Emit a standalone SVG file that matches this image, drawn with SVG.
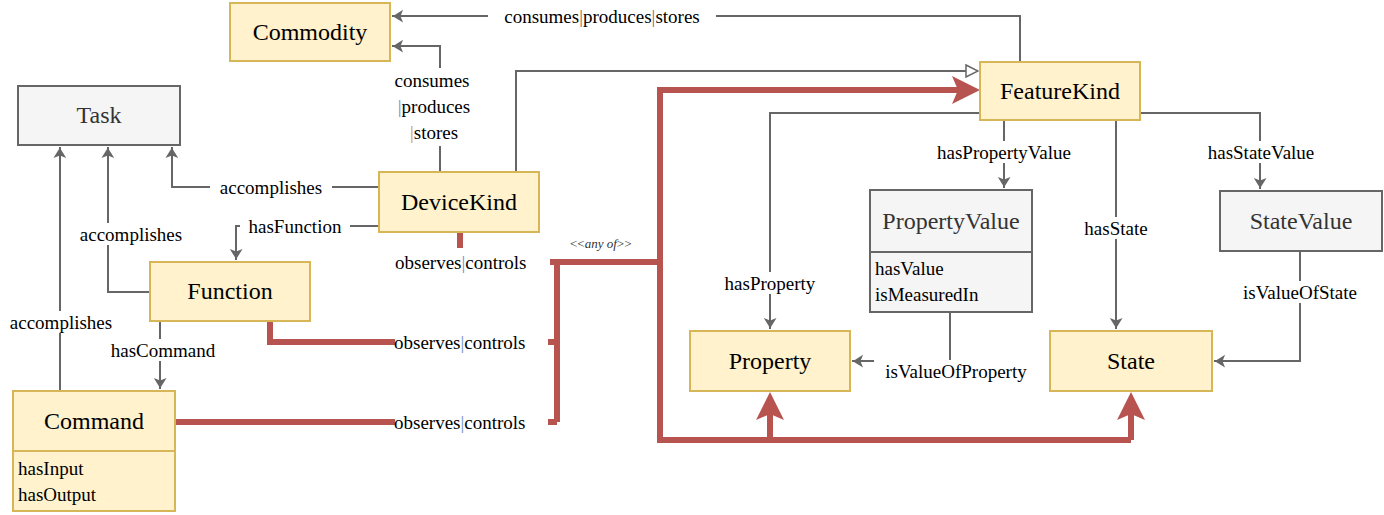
<svg xmlns="http://www.w3.org/2000/svg" width="1384" height="515" viewBox="0 0 1384 515">
<style>
.y{fill:#fff2cc;stroke:#d6b656;stroke-width:2}
.g{fill:#f5f5f5;stroke:#666;stroke-width:2}
.t{font-family:"Liberation Serif",serif;font-size:24px;fill:#000;text-anchor:middle}
.tg{fill:#333}
.a{font-family:"Liberation Serif",serif;font-size:19px;fill:#000;text-anchor:middle}
.al{font-family:"Liberation Serif",serif;font-size:19px;fill:#000}
.c{fill:none;stroke:#666;stroke-width:2}
.r{fill:none;stroke:#b85450;stroke-width:6}
.bg{fill:#fff}
</style>
<defs>
<marker id="ar" viewBox="0 0 10 10" refX="9" refY="5" markerWidth="8" markerHeight="8" markerUnits="userSpaceOnUse" orient="auto" overflow="visible"><path d="M-6,-5 L10,5 L-6,15 L-2,5 Z" fill="#666" transform="scale(0.8) translate(0,1)"/></marker>
<marker id="tri" viewBox="0 0 14 14" refX="13" refY="7" markerWidth="14" markerHeight="14" markerUnits="userSpaceOnUse" orient="auto"><path d="M1,1 L13,7 L1,13 Z" fill="#fff" stroke="#666" stroke-width="1.5"/></marker>
<marker id="rar" viewBox="0 0 10 10" refX="9" refY="5" markerWidth="5" markerHeight="5" orient="auto"><path d="M0,0 L10,5 L0,10 L3,5 Z" fill="#b85450"/></marker>
</defs>
<g id="connectors">
<path class="c" d="M1020,62 V16 H392" marker-end="url(#ar)"/>
<rect class="bg" x="488" y="4" width="228" height="24"/>
<text class="a" x="602" y="23">consumes<tspan fill="#b85450">|</tspan>produces<tspan fill="#b85450">|</tspan>stores</text>
<path class="c" d="M440,172 V46 H392" marker-end="url(#ar)"/>
<rect class="bg" x="386" y="68" width="94" height="78"/>
<text class="a" x="432" y="87">consumes</text>
<text class="a" x="434" y="113"><tspan fill="#6c8ebf">|</tspan>produces</text>
<text class="a" x="434" y="139"><tspan fill="#d79b00">|</tspan>stores</text>
<path class="c" d="M516,172 V71 H978" marker-end="url(#tri)"/>
<path class="c" d="M379,187 H172 V147" marker-end="url(#ar)"/>
<rect class="bg" x="210" y="176" width="122" height="22"/>
<text class="a" x="271" y="194">accomplishes</text>
<path class="c" d="M379,226 H236 V260" marker-end="url(#ar)"/>
<rect class="bg" x="240" y="215" width="110" height="22"/>
<text class="a" x="295" y="233">hasFunction</text>
<path class="c" d="M150,292 H108 V147" marker-end="url(#ar)"/>
<rect class="bg" x="70" y="223" width="122" height="22"/>
<text class="a" x="131" y="241">accomplishes</text>
<path class="c" d="M60,391 V147" marker-end="url(#ar)"/>
<rect class="bg" x="0" y="311" width="122" height="22"/>
<text class="a" x="61" y="329">accomplishes</text>
<path class="c" d="M160,322 V389" marker-end="url(#ar)"/>
<rect class="bg" x="102" y="339" width="122" height="22"/>
<text class="a" x="163" y="357">hasCommand</text>
<path class="c" d="M980,113 H770 V329" marker-end="url(#ar)"/>
<rect class="bg" x="716" y="272" width="110" height="22"/>
<text class="a" x="770" y="290">hasProperty</text>
<path class="c" d="M1004,120 V188" marker-end="url(#ar)"/>
<rect class="bg" x="924" y="141" width="160" height="22"/>
<text class="a" x="1004" y="159">hasPropertyValue</text>
<path class="c" d="M1116,120 V329" marker-end="url(#ar)"/>
<rect class="bg" x="1076" y="217" width="80" height="22"/>
<text class="a" x="1116" y="235">hasState</text>
<path class="c" d="M1140,113 H1260 V189" marker-end="url(#ar)"/>
<rect class="bg" x="1196" y="141" width="130" height="22"/>
<text class="a" x="1261" y="159">hasStateValue</text>
<path class="c" d="M950,312 V361 H852" marker-end="url(#ar)"/>
<rect class="bg" x="874" y="360" width="164" height="22"/>
<text class="a" x="956" y="378">isValueOfProperty</text>
<path class="c" d="M1300,251 V361 H1214" marker-end="url(#ar)"/>
<rect class="bg" x="1236" y="281" width="128" height="22"/>
<text class="a" x="1300" y="299">isValueOfState</text>
<!-- red -->
<path class="r" d="M460,233 V248"/>
<path class="r" d="M550,262 H660"/>
<path class="r" d="M557,262 V422"/>
<path class="r" d="M270,322 V342 H395"/>
<path class="r" d="M548,342 H557"/>
<path class="r" d="M175,422 H395"/>
<path class="r" d="M548,422 H557"/>
<path class="r" d="M660,262 V440 H1131"/>
<path class="r" d="M660,262 V90 H966"/>
<path d="M980,90 L952,76 L958,90 L952,104 Z" fill="#b85450"/>
<path class="r" d="M770,440 V408"/>
<path d="M770,392 L756,420 L770,414 L784,420 Z" fill="#b85450"/>
<path class="r" d="M1131,440 V408"/>
<path d="M1131,392 L1117,420 L1131,414 L1145,420 Z" fill="#b85450"/>
<text class="al" x="395" y="269">observes<tspan fill="#6c8ebf">|</tspan>controls</text>
<text class="al" x="394" y="349">observes<tspan fill="#6c8ebf">|</tspan>controls</text>
<text class="al" x="394" y="429">observes<tspan fill="#6c8ebf">|</tspan>controls</text>
<text font-family="Liberation Serif,serif" font-size="13" fill="#333" x="570" y="248">&lt;&lt;<tspan font-style="italic">any of</tspan>&gt;&gt;</text>
</g>
<g id="Commodity"><rect class="y" x="230" y="3" width="160" height="58"/><text class="t" x="310" y="40">Commodity</text></g>
<g id="Task"><rect class="g" x="18" y="86" width="162" height="59"/><text class="t tg" x="99" y="123">Task</text></g>
<g id="DeviceKind"><rect class="y" x="379" y="172" width="160" height="60"/><text class="t" x="459" y="210">DeviceKind</text></g>
<g id="Function"><rect class="y" x="150" y="262" width="160" height="59"/><text class="t" x="230" y="299">Function</text></g>
<g id="Command"><rect class="y" x="13" y="391" width="162" height="120"/><line x1="13" y1="451" x2="175" y2="451" stroke="#d6b656" stroke-width="2"/><text class="t" x="94" y="429">Command</text><text class="al" x="18" y="475">hasInput</text><text class="al" x="18" y="501">hasOutput</text></g>
<g id="FeatureKind"><rect class="y" x="980" y="62" width="160" height="58"/><text class="t" x="1060" y="99">FeatureKind</text></g>
<g id="PropertyValue"><rect class="g" x="870" y="190" width="162" height="122"/><line x1="870" y1="252" x2="1032" y2="252" stroke="#666" stroke-width="2"/><text class="t tg" x="951" y="229">PropertyValue</text><text class="al" fill="#333" x="875" y="275">hasValue</text><text class="al" x="875" y="301">isMeasuredIn</text></g>
<g id="StateValue"><rect class="g" x="1220" y="191" width="162" height="60"/><text class="t tg" x="1301" y="229">StateValue</text></g>
<g id="Property"><rect class="y" x="690" y="331" width="160" height="60"/><text class="t" x="770" y="369">Property</text></g>
<g id="State"><rect class="y" x="1050" y="331" width="162" height="60"/><text class="t" x="1131" y="369">State</text></g>
</svg>
